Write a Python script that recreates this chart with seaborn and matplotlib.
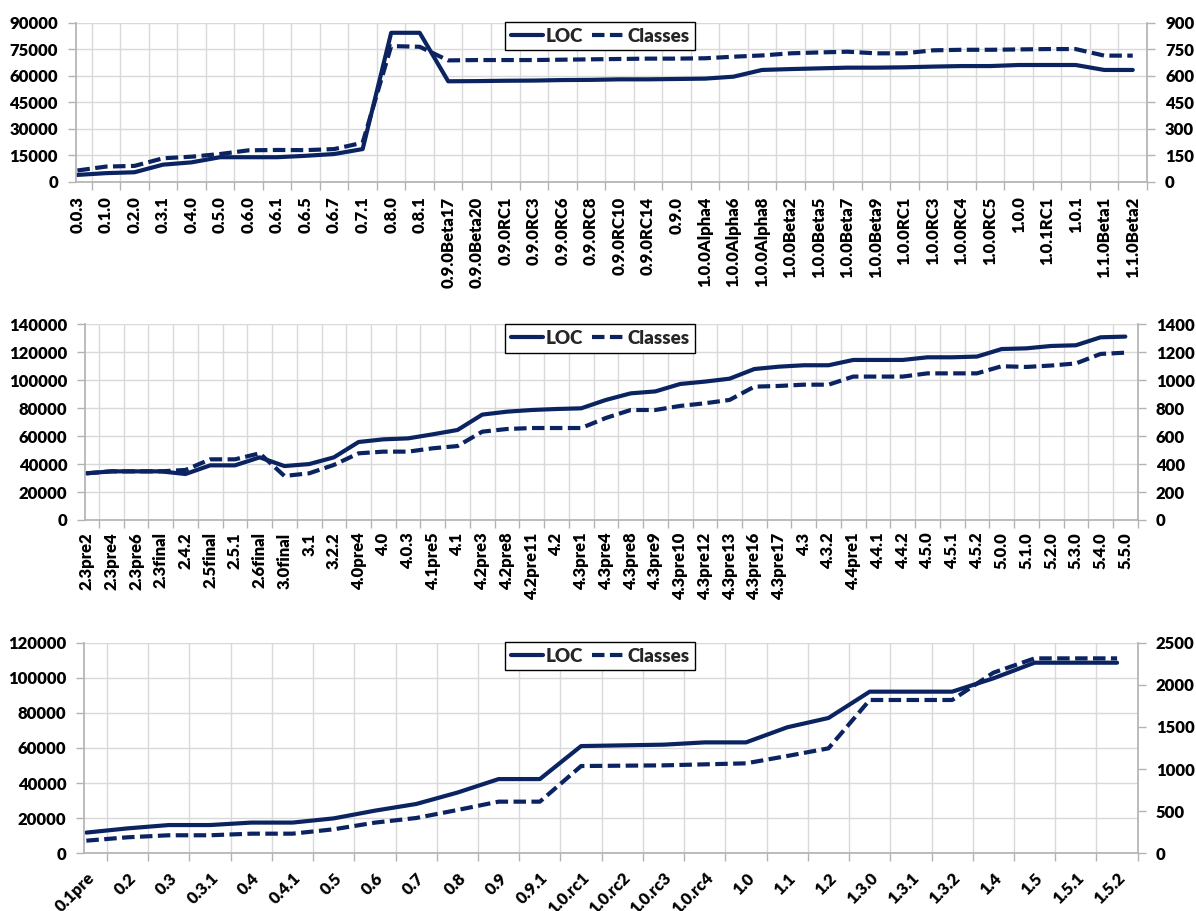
import numpy as np
import pandas as pd
import matplotlib
matplotlib.use("Agg")
import matplotlib.pyplot as plt
import seaborn as sns
from matplotlib.lines import Line2D

# Panel 1 releases
top_versions = ["0.0.3", "0.1.0", "0.2.0", "0.3.1", "0.4.0", "0.5.0", "0.6.0", "0.6.1",
                "0.6.5", "0.6.7", "0.7.1", "0.8.0", "0.8.1", "0.9.0Beta17", "0.9.0Beta20",
                "0.9.0RC1", "0.9.0RC3", "0.9.0RC6", "0.9.0RC8", "0.9.0RC10", "0.9.0RC14",
                "0.9.0", "1.0.0Alpha4", "1.0.0Alpha6", "1.0.0Alpha8", "1.0.0Beta2",
                "1.0.0Beta5", "1.0.0Beta7", "1.0.0Beta9", "1.0.0RC1", "1.0.0RC3", "1.0.0RC4",
                "1.0.0RC5", "1.0.0", "1.0.1RC1", "1.0.1", "1.1.0Beta1", "1.1.0Beta2"]
top_loc = [4000, 5000, 5500, 9800, 11100, 14000, 14000, 14000, 14800, 15800, 18600,
           84300, 84300, 56900, 57000, 57200, 57300, 57600, 57700, 58000, 58000, 58200,
           58400, 59500, 63300, 63800, 64200, 64600, 64600, 64800, 65200, 65500, 65500,
           66100, 66100, 66100, 63300, 63300]
top_classes = [65, 87, 91, 134, 143, 158, 179, 181, 180, 186, 222, 768, 764, 687, 689,
               689, 689, 691, 693, 695, 697, 697, 699, 708, 715, 727, 732, 736, 727, 727,
               744, 747, 747, 749, 751, 751, 714, 714]

# Panel 2 releases
mid_versions = ["2.3pre2", "2.3pre4", "2.3pre6", "2.3final", "2.4.2", "2.5final", "2.5.1",
                "2.6final", "3.0final", "3.1", "3.2.2", "4.0pre4", "4.0", "4.0.3", "4.1pre5",
                "4.1", "4.2pre3", "4.2pre8", "4.2pre11", "4.2", "4.3pre1", "4.3pre4",
                "4.3pre8", "4.3pre9", "4.3pre10", "4.3pre12", "4.3pre13", "4.3pre16",
                "4.3pre17", "4.3", "4.3.2", "4.4pre1", "4.4.1", "4.4.2", "4.5.0", "4.5.1",
                "4.5.2", "5.0.0", "5.1.0", "5.2.0", "5.3.0", "5.4.0", "5.5.0"]
mid_loc = [33400, 34800, 34800, 34800, 32900, 39100, 39100, 44800, 38600, 40000,
           44800, 55800, 57700, 58400, 61300, 64400, 75400, 77500, 78700, 79400,
           79900, 85900, 90600, 92000, 97300, 99000, 101100, 108000, 109700, 110700,
           110700, 114500, 114500, 114500, 116400, 116400, 116900, 122300, 122800, 124500,
           125000, 130700, 131200]
mid_classes = [334, 348, 348, 348, 358, 434, 434, 477, 315, 334,
               394, 477, 489, 489, 513, 529, 632, 651, 658, 658,
               658, 730, 787, 787, 816, 835, 859, 954, 959, 968,
               968, 1026, 1026, 1026, 1049, 1049, 1049, 1100, 1095, 1105,
               1120, 1188, 1197]

# Panel 3 releases
bot_versions = ["0.1pre", "0.2", "0.3", "0.3.1", "0.4", "0.4.1", "0.5", "0.6", "0.7", "0.8",
                "0.9", "0.9.1", "1.0.rc1", "1.0.rc2", "1.0.rc3", "1.0.rc4", "1.0", "1.1",
                "1.2", "1.3.0", "1.3.1", "1.3.2", "1.4", "1.5", "1.5.1", "1.5.2"]
bot_loc = [11800, 14200, 16100, 16100, 17500, 17500, 19900, 24300, 28100, 34600,
           42300, 42300, 61100, 61500, 61900, 63200, 63200, 71800, 77100, 92100,
           92100, 92100, 99700, 108600, 108600, 108600]
bot_classes = [150, 190, 214, 214, 233, 233, 285, 364, 419, 514,
               613, 613, 1036, 1040, 1044, 1056, 1068, 1155, 1246, 1820,
               1820, 1820, 2144, 2314, 2314, 2314]

NAVY = "#0B2461"
GRID = "#d9d9d9"
AXIS = "#b3b3b3"
DASH = (3, 1.3)
W, H = 1196, 911
FS = 12

sns.set_theme(style="white")
plt.rcParams["font.family"] = ["Lato", "DejaVu Sans"]
plt.rcParams["font.weight"] = "heavy"

fig = plt.figure(figsize=(W / 100, H / 100), dpi=100)


def px_rect(left, top, right, bottom):
    return [left / W, 1 - bottom / H, (right - left) / W, (bottom - top) / H]


def draw_panel(rect, versions, loc, classes, lticks, rticks, rot, xpad, legend_top):
    n = len(versions)
    df = pd.DataFrame({"pos": np.arange(n), "LOC": loc, "Classes": classes})

    ax = fig.add_axes(rect)
    ax2 = ax.twinx()
    sns.lineplot(data=df, x="pos", y="LOC", ax=ax, color=NAVY, lw=3)
    sns.lineplot(data=df, x="pos", y="Classes", ax=ax2, color=NAVY, lw=3)
    ax2.lines[-1].set_dashes(DASH)
    ax2.lines[-1].set_dash_capstyle("butt")

    ax.set_xlim(-0.05, n - 0.5)
    ax.set_ylim(lticks[0], lticks[-1])
    ax2.set_ylim(rticks[0], rticks[-1])
    ax.set_yticks(lticks)
    ax2.set_yticks(rticks)
    ax.set_xlabel("")
    ax.set_ylabel("")
    ax2.set_ylabel("")

    ax.set_xticks(np.arange(n))
    ax.set_xticks(np.arange(n) + 0.5, minor=True)
    if rot == 90:
        ax.set_xticklabels(versions, rotation=90)
    else:
        ax.set_xticklabels(versions, rotation=rot, ha="right", va="top",
                           rotation_mode="anchor")

    ax.grid(False)
    ax2.grid(False)
    ax.yaxis.grid(True, color=GRID, lw=1)
    ax.xaxis.grid(True, which="minor", color=GRID, lw=1)
    ax.set_axisbelow(True)

    for side in ["top", "right"]:
        ax.spines[side].set_visible(False)
    for side in ["top", "left", "bottom"]:
        ax2.spines[side].set_visible(False)
    ax.spines["left"].set_color(AXIS)
    ax.spines["bottom"].set_color(AXIS)
    ax2.spines["right"].set_color(AXIS)

    ax.tick_params(axis="y", left=True, length=6, width=1, color=AXIS, pad=7,
                   labelsize=FS, labelcolor="black")
    ax2.tick_params(axis="y", right=True, length=6, width=1, color=AXIS, pad=7,
                    labelsize=FS, labelcolor="black")
    ax.tick_params(axis="x", which="major", bottom=True, length=0, pad=xpad,
                   labelsize=FS, labelcolor="black")
    ax.tick_params(axis="x", which="minor", bottom=True, length=6, width=1, color=AXIS)

    handles = [Line2D([], [], color=NAVY, lw=3),
               Line2D([], [], color=NAVY, lw=3, dashes=DASH)]
    leg = fig.legend(handles, ["LOC", "Classes"], loc="upper center",
                     bbox_to_anchor=(600 / W, 1 - legend_top / H), ncol=2,
                     frameon=True, fancybox=False, edgecolor="black", framealpha=1,
                     prop={"size": 13.5, "weight": "heavy"}, handlelength=1.7,
                     handletextpad=0.15, columnspacing=0.5, borderpad=0.3)
    leg.get_frame().set_linewidth(1)


draw_panel(px_rect(76, 22.7, 1147, 182), top_versions, top_loc, top_classes,
           np.arange(0, 90001, 15000), np.arange(0, 901, 150), 90, 10.5, 12.7)
draw_panel(px_rect(85.3, 324.3, 1137.7, 520), mid_versions, mid_loc, mid_classes,
           np.arange(0, 140001, 20000), np.arange(0, 1401, 200), 90, 9, 315)
draw_panel(px_rect(84.3, 642.7, 1137.7, 853.3), bot_versions, bot_loc, bot_classes,
           np.arange(0, 120001, 20000), np.arange(0, 2501, 500), 45, 12, 632.7)

fig.savefig("out.png", dpi=100)
